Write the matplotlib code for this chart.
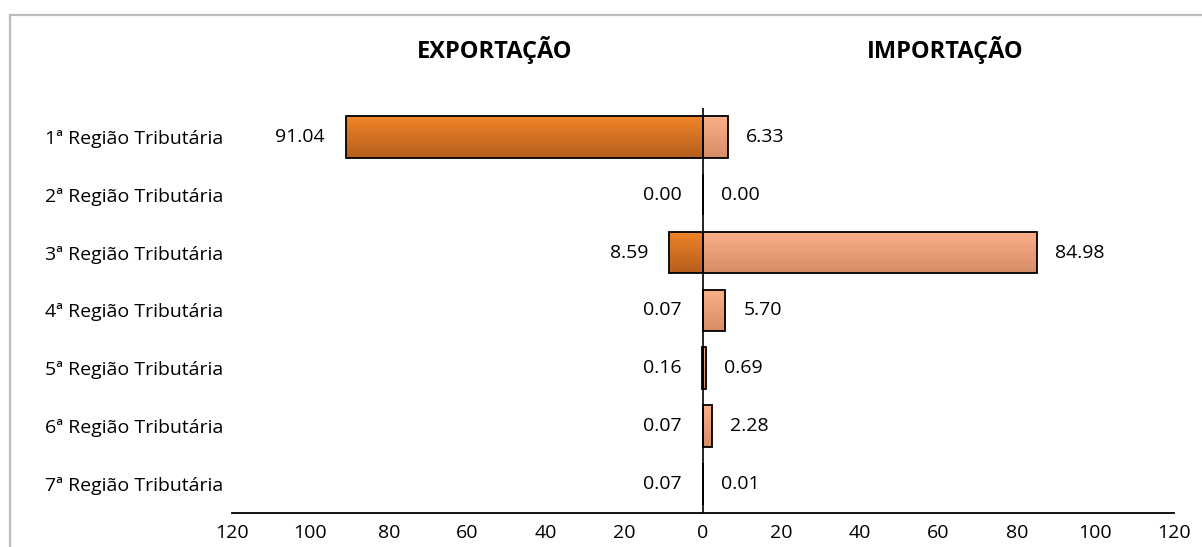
import matplotlib.pyplot as plt
import numpy as np
from matplotlib.colors import LinearSegmentedColormap
from matplotlib.lines import Line2D

regions = [
    "1ª Região Tributária",
    "2ª Região Tributária",
    "3ª Região Tributária",
    "4ª Região Tributária",
    "5ª Região Tributária",
    "6ª Região Tributária",
    "7ª Região Tributária",
]
exportacao = [91.04, 0.00, 8.59, 0.07, 0.16, 0.07, 0.07]
importacao = [6.33, 0.00, 84.98, 5.70, 0.69, 2.28, 0.01]
tick_vals = [-120, -100, -80, -60, -40, -20, 0, 20, 40, 60, 80, 100, 120]

FONT = ["Open Sans", "DejaVu Sans"]
plt.rcParams["font.family"] = FONT

exp_cmap = LinearSegmentedColormap.from_list("exp", ["#F08428", "#B65E1D"])
imp_cmap = LinearSegmentedColormap.from_list("imp", ["#FBB089", "#D78C68"])


def gradient_bar(ax, bar, cmap):
    x, y = bar.get_x(), bar.get_y()
    w, h = bar.get_width(), bar.get_height()
    grad = np.linspace(0, 1, 64).reshape(-1, 1)
    # y axis is inverted, so bar top sits at the smaller y value
    im = ax.imshow(grad, cmap=cmap, aspect="auto", origin="upper",
                   extent=(x, x + w, y + h, y), zorder=2)
    im.set_clip_path(bar)
    bar.set_facecolor("none")


fig = plt.figure(figsize=(12.02, 5.47), dpi=100)
ax = fig.add_axes([0.193, 0.062, 0.7837, 0.741])

y = np.arange(len(regions))
exp_vals = -np.array(exportacao)
imp_vals = np.array(importacao)

bars_e = ax.barh(y, exp_vals, height=0.72, edgecolor="black", linewidth=1.3, zorder=3)
bars_i = ax.barh(y, imp_vals, height=0.72, edgecolor="black", linewidth=1.3, zorder=3)
ax.set_xlim(-120, 120)
ax.set_ylim(len(regions) - 0.5, -0.5)

for b in bars_e:
    gradient_bar(ax, b, exp_cmap)
for b in bars_i:
    gradient_bar(ax, b, imp_cmap)

ax.axvline(0, color="black", linewidth=1.2, zorder=4)

for i, (e, m) in enumerate(zip(exportacao, importacao)):
    ax.annotate(f"{e:.2f}", (-e, i), xytext=(-15, 0), textcoords="offset points",
                ha="right", va="center", fontsize=14)
    ax.annotate(f"{m:.2f}", (m, i), xytext=(13, 0), textcoords="offset points",
                ha="left", va="center", fontsize=14)

ax.set_xticks(tick_vals)
ax.set_xticklabels([str(abs(v)) for v in tick_vals], fontsize=14)
ax.tick_params(axis="x", length=0, pad=8)
ax.set_yticks(y)
ax.set_yticklabels(regions, fontsize=14, ha="left")
ax.tick_params(axis="y", length=0, pad=(232 - 45) * 0.72)
for s in ["top", "right", "left"]:
    ax.spines[s].set_visible(False)
ax.spines["bottom"].set_linewidth(1.3)

fig.text(495 / 1202, 1 - 50 / 547, "EXPORTAÇÃO", ha="center", va="center",
         fontsize=17, fontweight="bold")
fig.text(945 / 1202, 1 - 50 / 547, "IMPORTAÇÃO", ha="center", va="center",
         fontsize=17, fontweight="bold")

# grey chart-area frame (only top and left edges fall inside the image)
x0, y0 = 10 / 1202, 1 - 15 / 547
fig.lines.append(Line2D([x0, 1.0], [y0, y0], transform=fig.transFigure,
                        color="#BDBDBD", linewidth=1.6))
fig.lines.append(Line2D([x0, x0], [0.0, y0], transform=fig.transFigure,
                        color="#BDBDBD", linewidth=1.6))

fig.savefig("out.png", dpi=100)
